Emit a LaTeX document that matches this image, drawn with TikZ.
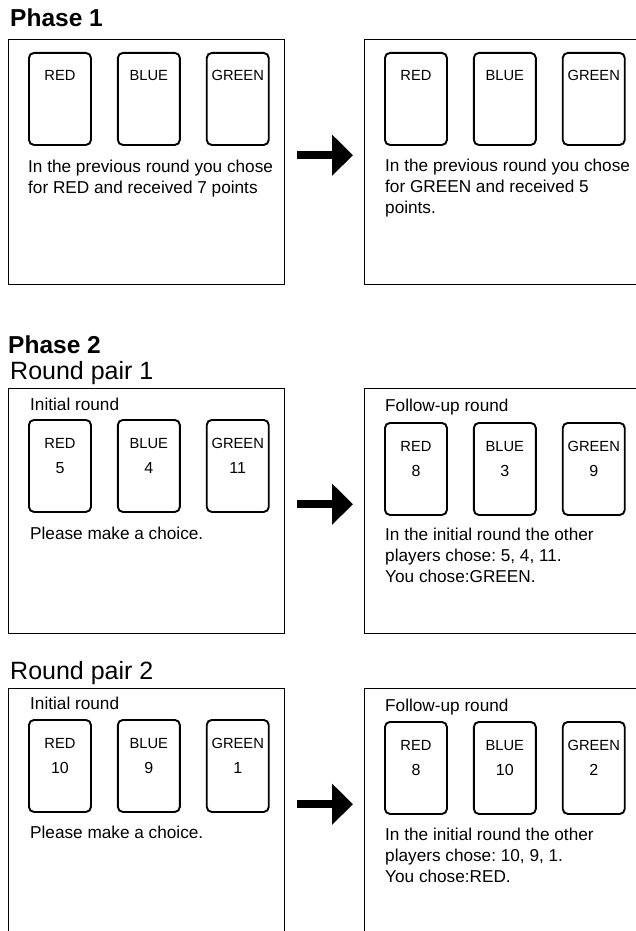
\documentclass[tikz,border=0pt]{standalone}
\usepackage{fontspec}
\setmainfont{Liberation Sans}
\usetikzlibrary{arrows.meta,positioning}
\frenchspacing

\begin{document}
\begin{tikzpicture}[x=1pt, y=-1pt,
      panel/.style={draw, line width=1.4pt, minimum width=276pt, minimum height=245pt, inner sep=0pt, anchor=north west},
      card/.style={draw, line width=1.9pt, rounded corners=5pt, minimum width=62pt, minimum height=92pt, inner sep=0pt, anchor=north west},
      cardname/.style={font=\fontsize{14.7}{16}\selectfont, inner sep=0pt, anchor=base},
      cardnum/.style={font=\fontsize{16}{18}\selectfont, inner sep=0pt, anchor=base},
      msg/.style={font=\fontsize{17.2}{21}\selectfont, align=left, anchor=north west, inner sep=0pt},
      phase/.style={font=\bfseries\fontsize{24.5}{27}\selectfont, anchor=base west, inner sep=0pt},
      pair/.style={font=\fontsize{25}{28}\selectfont, anchor=base west, inner sep=0pt},
      bigarrow/.style={line width=8pt, -{Triangle[length=21pt,width=40pt]}, shorten <=12pt, shorten >=11pt}]
      \path[use as bounding box, clip] (0,0) rectangle (636,931);

      % titles
      \node[phase] (ph1) at (10,27) {Phase 1};
      \node[phase] (ph2) at (8,353) {Phase 2};
      \node[pair] (pair1) at (10,379) {Round pair 1};
      \node[pair] (pair2) at (10,679) {Round pair 2};

      % screens
      \node[panel] (p1l) at (8,39) {};
      \node[panel, minimum width=290pt] (p1r) at (364,39) {};
      \node[panel] (r1l) at (8,388) {};
      \node[panel, minimum width=290pt] (r1r) at (364,388) {};
      \node[panel] (r2l) at (8,688) {};
      \node[panel, minimum width=290pt] (r2r) at (364,688) {};

      % the three cards on every screen
      \foreach \p/\dy/\a/\b/\c in {p1l/13/{}/{}/{}, p1r/13/{}/{}/{}, r1l/31/5/4/11, r1r/34/8/3/9, r2l/31/10/9/1, r2r/33/8/10/2} {
            \node[card] (\p-red) at ([xshift=20pt, yshift=-\dy pt]\p.north west) {};
            \node[card, right=25pt of \p-red] (\p-blue) {};
            \node[card, right=25pt of \p-blue] (\p-green) {};
            \foreach \k/\v/\w in {red/RED/\a, blue/BLUE/\b, green/GREEN/\c} {
                  \node[cardname] (\p-\k-name) at ([yshift=-29pt]\p-\k.north) {\v};
                  \node[cardnum] (\p-\k-num) at ([yshift=-54pt]\p-\k.north) {\w};
            }
      }

      % messages
      \node[msg] (p1l-msg) at ([xshift=20pt, yshift=-121pt]p1l.north west) {In the previous round you chose\\for RED and received 7 points};
      \node[msg] (p1r-msg) at ([xshift=21pt, yshift=-120pt]p1r.north west) {In the previous round you chose\\for GREEN and received 5\\points.};
      \node[msg] (r1l-head) at ([xshift=22pt, yshift=-10pt]r1l.north west) {Initial round};
      \node[msg] (r1l-msg) at ([xshift=22pt, yshift=-139pt]r1l.north west) {Please make a choice.};
      \node[msg] (r1r-head) at ([xshift=21pt, yshift=-11pt]r1r.north west) {Follow-up round};
      \node[msg] (r1r-msg) at ([xshift=21pt, yshift=-140pt]r1r.north west) {In the initial round the other\\players chose: 5, 4, 11.\\You chose:GREEN.};
      \node[msg] (r2l-head) at ([xshift=22pt, yshift=-9pt]r2l.north west) {Initial round};
      \node[msg] (r2l-msg) at ([xshift=22pt, yshift=-138pt]r2l.north west) {Please make a choice.};
      \node[msg] (r2r-head) at ([xshift=21pt, yshift=-11pt]r2r.north west) {Follow-up round};
      \node[msg] (r2r-msg) at ([xshift=21pt, yshift=-140pt]r2r.north west) {In the initial round the other\\players chose: 10, 9, 1.\\You chose:RED.};

      % arrows between screens
      \draw[bigarrow] ([yshift=7pt]p1l.east) -- ([yshift=7pt]p1r.west);
      \draw[bigarrow] ([yshift=7pt]r1l.east) -- ([yshift=7pt]r1r.west);
      \draw[bigarrow] ([yshift=7pt]r2l.east) -- ([yshift=7pt]r2r.west);
\end{tikzpicture}
\end{document}
